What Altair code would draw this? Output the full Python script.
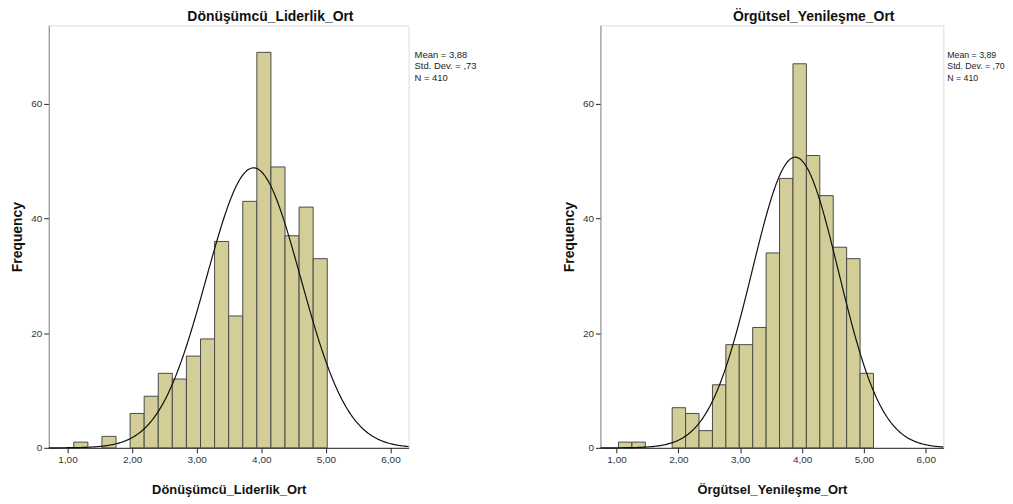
import altair as alt
import pandas as pd

# ---- Left histogram: Dönüşümcü_Liderlik_Ort ----
left_title = "Dönüşümcü_Liderlik_Ort"
left_bin_start = 1.097
left_bin_width = 0.218
left_counts = [1, 0, 2, 0, 6, 9, 13, 12, 16, 19, 36, 23, 43, 69, 49, 37, 42, 33]
left_stats = ["Mean = 3,88", "Std. Dev. = ,73", "N = 410"]
left_mean, left_sd, left_n = 3.88, 0.73, 410
left_xdomain = [0.71, 6.28]

# ---- Right histogram: Örgütsel_Yenileşme_Ort ----
right_title = "Örgütsel_Yenileşme_Ort"
right_bin_start = 1.032
right_bin_width = 0.217
right_counts = [1, 1, 0, 0, 7, 6, 3, 11, 18, 18, 21, 34, 47, 67, 51, 44, 35, 33, 13]
right_stats = ["Mean = 3,89", "Std. Dev. = ,70", "N = 410"]
right_mean, right_sd, right_n = 3.89, 0.70, 410
right_xdomain = [0.74, 6.285]

x_ticks = [1, 2, 3, 4, 5, 6]
y_ticks = [0, 20, 40, 60]
y_domain = [0, 73.7]

BAR_FILL = "#D3CE97"
BAR_STROKE = "#4a4a4a"
FONT = "Liberation Sans"


def panel(title, start, width, counts, stats, mean, sd, n, xdom, w, h, stat_size, stat_dx):
    df = pd.DataFrame({
        "lo": [start + i * width for i in range(len(counts))],
        "hi": [start + (i + 1) * width for i in range(len(counts))],
        "count": counts,
    })
    df = df[df["count"] > 0]
    xscale = alt.Scale(domain=xdom, nice=False, zero=False)
    yscale = alt.Scale(domain=y_domain, nice=False)
    xaxis = alt.Axis(
        values=x_ticks,
        labelExpr="replace(format(datum.value, '.2f'), '.', ',')",
        title=title, titleFontSize=13, titleFontWeight="bold", titlePadding=19,
        titleColor="#111", labelFontSize=10, labelColor="#333", labelFont=FONT,
        titleFont=FONT, tickSize=5, tickColor="#222", domainColor="#222",
        labelPadding=2, grid=False,
    )
    yaxis = alt.Axis(
        values=y_ticks, title="Frequency", titleFontSize=14, titleFontWeight="bold",
        titleFont=FONT, titleColor="#111", titlePadding=6, labelFontSize=10,
        labelColor="#333", labelFont=FONT, tickSize=5, tickColor="#222",
        domainColor="#888", grid=False, labelPadding=2,
    )
    bars = alt.Chart(df).mark_rect(fill=BAR_FILL, stroke=BAR_STROKE, strokeWidth=1).encode(
        x=alt.X("lo:Q", scale=xscale, axis=xaxis),
        x2="hi:Q",
        y=alt.Y("count:Q", scale=yscale, axis=yaxis),
        y2=alt.datum(0),
    )
    curve = alt.Chart(alt.sequence(0, 401, as_="i")).transform_calculate(
        x=f"{xdom[0]} + datum.i * ({xdom[1]} - {xdom[0]}) / 400"
    ).transform_calculate(
        y=f"{n} * {width} / ({sd} * sqrt(2 * PI)) * exp(-0.5 * pow((datum.x - {mean}) / {sd}, 2))"
    ).mark_line(color="#111", strokeWidth=1.2).encode(
        x=alt.X("x:Q", scale=xscale),
        y=alt.Y("y:Q", scale=yscale),
    )
    txt = alt.Chart(pd.DataFrame({"k": [0]})).mark_text(
        align="left", baseline="middle", fontSize=stat_size, font=FONT, color="#222",
        lineHeight=11.7,
    ).encode(
        x=alt.value(w + stat_dx), y=alt.value(29.5), text=alt.value(stats),
    )
    return alt.layer(bars, curve, txt).properties(
        width=w, height=h,
        title=alt.TitleParams(title, fontSize=14, fontWeight="bold", font=FONT,
                              color="#111", anchor="middle", frame="group",
                              dx=42, offset=1),
    )


left = panel(left_title, left_bin_start, left_bin_width, left_counts, left_stats,
             left_mean, left_sd, left_n, left_xdomain, 362, 425, 9.5, 6)
right = panel(right_title, right_bin_start, right_bin_width, right_counts, right_stats,
              right_mean, right_sd, right_n, right_xdomain, 345, 425, 8.8, 4)

chart = alt.hconcat(left, right, spacing=85).properties(
    padding={"left": 2, "top": 0, "right": -1, "bottom": 0}
).configure_view(
    fill="#F0F0F0", stroke="#8a8a8a", strokeWidth=1.5
).configure(background="white")

chart.save("out.html", embed_options={"renderer": "svg", "actions": False})
